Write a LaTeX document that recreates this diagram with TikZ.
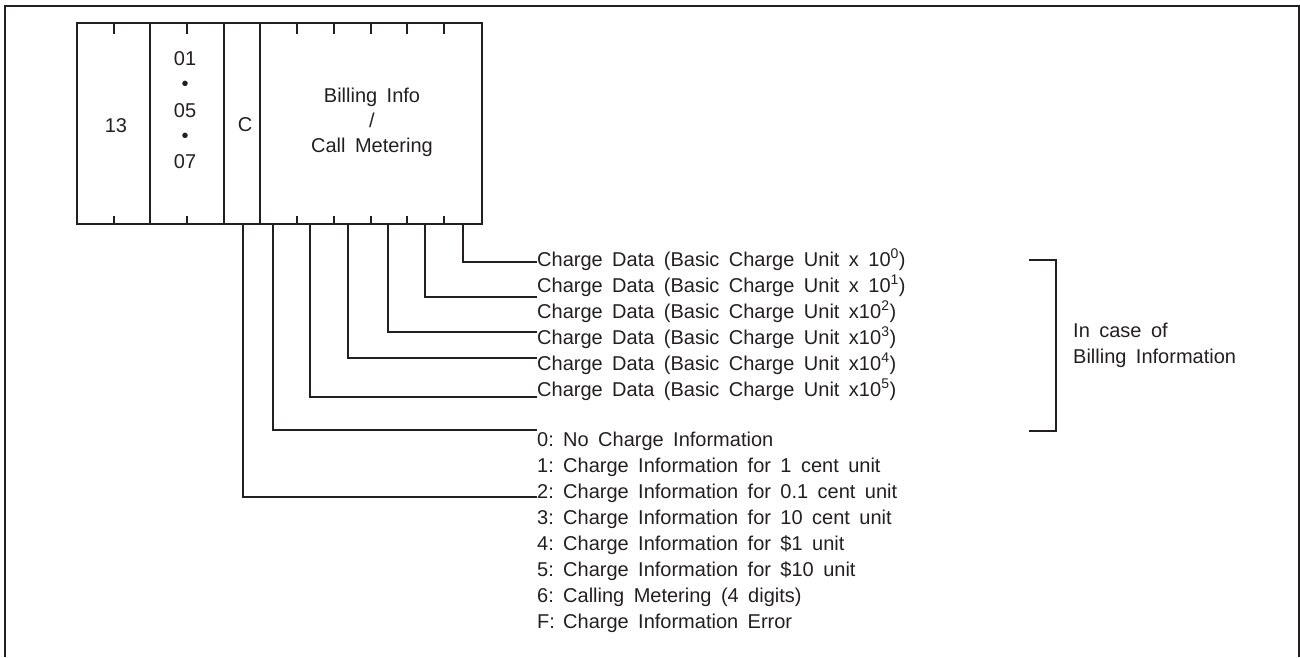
\documentclass[tikz,border=0pt]{standalone}
\usepackage{fontspec}
\setmainfont[WordSpace=1.7]{Liberation Sans}
\usetikzlibrary{calc}
\definecolor{ink}{HTML}{231F20}
\begin{document}
\begin{tikzpicture}[x=1pt,y=-1pt,
  ln/.style={draw=ink,line width=2pt},
  cellbox/.style={draw=ink,line width=2pt,rectangle,inner sep=0pt,outer sep=0pt,minimum height=201pt},
  txt/.style={text=ink,font=\fontsize{20}{26}\selectfont,inner sep=0pt,anchor=base west},
  ctxt/.style={text=ink,font=\fontsize{20}{26}\selectfont,inner sep=0pt,anchor=base}]
\useasboundingbox (0,0) rectangle (1300,657);
% outer frame
\draw[ln] (5,657) -- (5,5.5) -- (1299,5.5) -- (1299,657);
% cells
\node[cellbox,minimum width=73pt] (c1) at (113.5,123.5) {};
\node[cellbox,minimum width=74pt] (c2) at (187,123.5) {};
\node[cellbox,minimum width=36pt] (c3) at (242,123.5) {};
\node[cellbox,minimum width=222pt] (c4) at (371,123.5) {};
\foreach \x in {114,187,297,334,371,407,444} {
  \draw[ln] (\x,23) -- (\x,34);
  \draw[ln] (\x,216) -- (\x,224);
}
% cell texts
\node[ctxt] (t13) at (116,132) {13};
\node[ctxt] (ta) at (185,65) {01};
\node[ctxt] (tb) at (185,90) {•};
\node[ctxt] (tc) at (185,117) {05};
\node[ctxt] (td) at (185,142) {•};
\node[ctxt] (te) at (185,168) {07};
\node[ctxt] (tC) at (245,131) {C};
\node[ctxt] (bi1) at (372,102) {Billing Info};
\node[ctxt] (bi2) at (372,127) {/};
\node[ctxt] (bi3) at (372,152) {Call Metering};
% charge data rows
\node[txt] (r0) at (537,266) {Charge Data (Basic Charge Unit x 10\textsuperscript{0})};
\node[txt] (r1) at (537,292) {Charge Data (Basic Charge Unit x 10\textsuperscript{1})};
\node[txt] (r2) at (537,318) {Charge Data (Basic Charge Unit x10\textsuperscript{2})};
\node[txt] (r3) at (537,344) {Charge Data (Basic Charge Unit x10\textsuperscript{3})};
\node[txt] (r4) at (537,370) {Charge Data (Basic Charge Unit x10\textsuperscript{4})};
\node[txt] (r5) at (537,396) {Charge Data (Basic Charge Unit x10\textsuperscript{5})};
% code rows
\node[txt] (k0) at (537,446) {\makebox[26pt][l]{0:}No Charge Information};
\node[txt] (k1) at (537,472) {\makebox[26pt][l]{1:}Charge Information for 1 cent unit};
\node[txt] (k2) at (537,498) {\makebox[26pt][l]{2:}Charge Information for 0.1 cent unit};
\node[txt] (k3) at (537,524) {\makebox[26pt][l]{3:}Charge Information for 10 cent unit};
\node[txt] (k4) at (537,550) {\makebox[26pt][l]{4:}Charge Information for \$1 unit};
\node[txt] (k5) at (537,576) {\makebox[26pt][l]{5:}Charge Information for \$10 unit};
\node[txt] (k6) at (537,602) {\makebox[26pt][l]{6:}Calling Metering (4 digits)};
\node[txt] (k7) at (537,628) {\makebox[26pt][l]{F:}Charge Information Error};
% connectors
\coordinate (s0) at (463,224);
\coordinate (s1) at (425,224);
\coordinate (s3) at (388,224);
\coordinate (s4) at (348,224);
\coordinate (s5) at (310,224);
\coordinate (sk0) at (273,224);
\coordinate (sk2) at (243,224);
\draw[ln] (s0) |- ($(r0.base west)+(0,-4)$);
\draw[ln] (s1) |- ($(r1.base west)+(0,5)$);
\draw[ln] (s3) |- ($(r3.base west)+(0,-12)$);
\draw[ln] (s4) |- ($(r4.base west)+(0,-12)$);
\draw[ln] (s5) |- ($(r5.base west)+(0,1)$);
\draw[ln] (sk0) |- ($(k0.base west)+(0,-16)$);
\draw[ln] (sk2) |- ($(k2.base west)+(0,-1)$);
% bracket
\draw[ln] (1029,260) -- (1056,260) -- (1056,431) -- (1029,431);
\node[txt] (n1) at (1073,337) {In case of};
\node[txt] (n2) at (1073,363) {Billing Information};
\end{tikzpicture}
\end{document}
